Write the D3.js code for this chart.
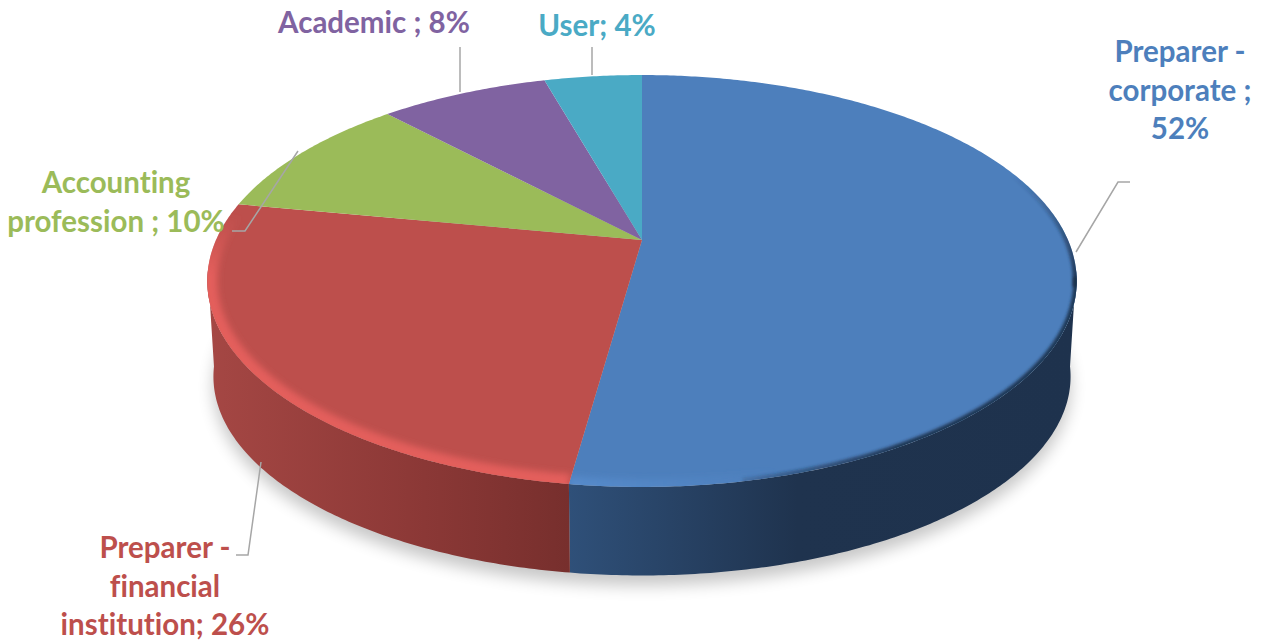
<!DOCTYPE html>
<html>
<head>
<meta charset="utf-8">
<script src="https://cdn.jsdelivr.net/npm/d3@7"></script>
<style>
    html, body { margin: 0; padding: 0; background: #fff; overflow: hidden; }
    text { font-family: Lato, "Open Sans", sans-serif; font-weight: 700; font-size: 29.5px; font-variant-ligatures: none; }
</style>
</head>
<body>
<div id="pie-chart"></div>
<script>
// Chart data, wedge sizes (labels show them rounded)
const categories = ["Preparer - corporate", "Preparer - financial institution", "Accounting profession", "Academic", "User"];
const shares = [52.2, 25.8, 10, 7.6, 4.4];
const labelLines = [
    ["Preparer -", "corporate ;", "52%"],
    ["Preparer -", "financial", "institution; 26%"],
    ["Accounting", "profession ; 10%"],
    ["Academic ; 8%"],
    ["User; 4%"]
];

const colors = ["#4d7fbc", "#bd4f4c", "#9bbb59", "#8063a1", "#4aaac5"];
const sideStops = [
    [[0, "#2f5079"], [0.45, "#1f334e"], [1, "#1e324d"]],
    [[0, "#a54744"], [0.6, "#8b3836"], [1, "#772f2d"]]
];

const width = 1264;
const height = 644;

// Label anchors and leader lines, in page pixels
const labelPos = [
    { x: 1180, y: 62 },
    { x: 165, y: 558 },
    { x: 116, y: 193 },
    { x: 374, y: 33 },
    { x: 597, y: 36 }
];
const leaders = [
    [[1076, 252], [1118, 182], [1130, 182]],
    [[261, 462], [248, 555], [236, 555]],
    [[298, 151], [245, 231], [232, 231]],
    [[460, 92], [460, 47]],
    [[592, 75], [592, 47]]
];

// Tilted circle with perspective: k shrinks the far side
const k = 0.199;
const topPlane = { x: d3.scaleLinear().domain([-1, 1]).range([642 - 426, 642 + 426]),
                   y: d3.scaleLinear().domain([-1, 1]).range([240 + 197.8, 240 - 197.8]) };
const basePlane = { x: d3.scaleLinear().domain([-1, 1]).range([642 - 420, 642 + 420]),
                    y: d3.scaleLinear().domain([-1, 1]).range([337 + 191, 337 - 191]) };

function project(plane, angle) {
    const w = 1 + k * Math.cos(angle);
    return [plane.x(Math.sin(angle) / w), plane.y(Math.cos(angle) / w)];
}

function rim(plane, a0, a1) {
    const n = Math.max(2, Math.ceil(Math.abs(a1 - a0) / 0.01));
    return d3.range(n + 1).map(i => project(plane, a0 + (a1 - a0) * i / n));
}

const line = d3.line();
const arcs = d3.pie().sort(null)(shares);

const svg = d3.select("#pie-chart")
    .append("svg")
    .attr("width", width)
    .attr("height", height);

const defs = svg.append("defs");
[["blur-shadow", 8], ["blur-light", 3.4], ["blur-dark", 1.8]].forEach(([id, dev]) => {
    defs.append("filter")
        .attr("id", id)
        .attr("x", "-20%").attr("y", "-20%").attr("width", "140%").attr("height", "140%")
        .append("feGaussianBlur")
        .attr("stdDeviation", dev);
});

// Soft shadow under the pie
svg.append("path")
    .attr("d", line(rim(basePlane, 0, 2 * Math.PI)) + "Z")
    .attr("transform", "translate(0,10)")
    .attr("fill", "#000")
    .attr("opacity", 0.22)
    .attr("filter", "url(#blur-shadow)");

// Side wall, only the front part shows
const frontLeft = 2 * Math.PI - Math.acos(-k) + 0.05;
const frontRight = Math.acos(-k) - 0.05;

[0, 1].forEach(i => {
    const a0 = Math.max(arcs[i].startAngle, frontRight);
    const a1 = Math.min(arcs[i].endAngle, frontLeft);
    const upper = rim(topPlane, a0, a1);
    const lower = rim(basePlane, a1, a0);
    const gradId = "side-" + i;
    const xs = upper.map(d => d[0]);
    const grad = defs.append("linearGradient")
        .attr("id", gradId)
        .attr("gradientUnits", "userSpaceOnUse")
        .attr("x1", d3.min(xs))
        .attr("x2", d3.max(xs));
    sideStops[i].forEach(s => {
        grad.append("stop").attr("offset", s[0]).attr("stop-color", s[1]);
    });

    svg.append("path")
        .attr("d", line(upper.concat(lower)) + "Z")
        .attr("fill", `url(#${gradId})`);
});

// Top face, one wedge per category
arcs.forEach((d, i) => {
    const outline = [[topPlane.x(0), topPlane.y(0)]]
        .concat(rim(topPlane, d.startAngle, d.endAngle));
    const path = line(outline) + "Z";

    defs.append("clipPath")
        .attr("id", "wedge-" + i)
        .append("path")
        .attr("d", path);

    svg.append("path")
        .attr("d", path)
        .attr("fill", colors[i]);
});

// Bevel along the rim: dark on the right, light on the front left.
// fade is the gradient line over which each stroke goes from see-through to full
const bevels = [
    { slice: 0, from: 0.7, to: 1.8, color: "#1b304c", width: 8, filter: "blur-dark", fade: [1040, 170, 1060, 285] },
    { slice: 0, from: 1.75, to: 2.95, color: "#1b304c", width: 7, filter: "blur-dark", fade: [690, 0, 900, 0] },
    { slice: 0, from: 2.55, to: arcs[0].endAngle, color: "#5c93d6", width: 16, filter: "blur-light", fade: [780, 0, 575, 0] },
    { slice: 1, from: arcs[1].startAngle, to: 5.0, color: "#e8605e", width: 20, filter: "blur-light", fade: [0, 215, 0, 275] }
];
bevels.forEach((b, i) => {
    const grad = defs.append("linearGradient")
        .attr("id", "fade-" + i)
        .attr("gradientUnits", "userSpaceOnUse")
        .attr("x1", b.fade[0]).attr("y1", b.fade[1])
        .attr("x2", b.fade[2]).attr("y2", b.fade[3]);
    grad.append("stop").attr("offset", 0).attr("stop-color", b.color).attr("stop-opacity", 0);
    grad.append("stop").attr("offset", 1).attr("stop-color", b.color).attr("stop-opacity", b.color === "#5c93d6" ? 0.55 : 0.9);

    svg.append("g")
        .attr("clip-path", `url(#wedge-${b.slice})`)
        .append("path")
        .attr("d", line(rim(topPlane, b.from, b.to)))
        .attr("fill", "none")
        .attr("stroke", `url(#fade-${i})`)
        .attr("stroke-width", b.width)
        .attr("filter", `url(#${b.filter})`);
});

// Leader lines
svg.selectAll(".leader")
    .data(leaders)
    .enter()
    .append("path")
    .attr("class", "leader")
    .attr("d", d => line(d))
    .attr("fill", "none")
    .attr("stroke", "#a6a6a6")
    .attr("stroke-width", 1.5);

// Labels
const labels = svg.selectAll(".label")
    .data(categories)
    .enter()
    .append("text")
    .attr("class", "label")
    .attr("text-anchor", "middle")
    .attr("fill", (d, i) => colors[i]);

labels.each(function (d, i) {
    d3.select(this).selectAll("tspan")
        .data(labelLines[i])
        .enter()
        .append("tspan")
        .attr("x", labelPos[i].x)
        .attr("y", (t, j) => labelPos[i].y + j * 38.5)
        .text(t => t);
});
</script>
</body>
</html>
